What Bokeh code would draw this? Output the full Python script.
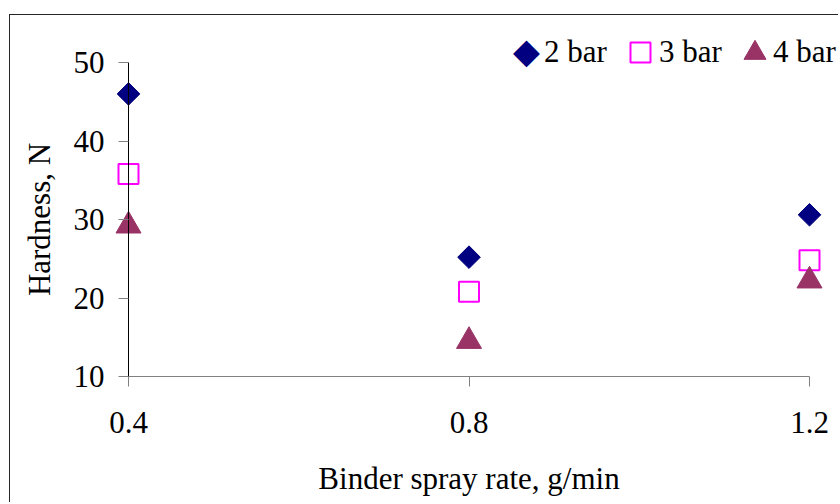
import math
from bokeh.plotting import figure
from bokeh.models import Range1d, Legend, LegendItem, FixedTicker, Label
from bokeh.embed import file_html
from bokeh.resources import INLINE

x_rate = [0.4, 0.8, 1.2]
hard_2bar = [46.0, 25.2, 30.6]
hard_3bar = [35.8, 20.8, 24.8]
hard_4bar = [29.2, 14.5, 22.2]
x_ticks = [0.4, 0.8, 1.2]
y_ticks = [10, 20, 30, 40, 50]
series_labels = ["2 bar", "3 bar", "4 bar"]

FONT = "Liberation Serif"
FS = "31px"

# layout (canvas pixels); canvas origin sits at page (10, 15), frame = whole canvas
W, H = 829, 488
ax_x0, ax_x1 = 118, 799           # pixel of x = 0.4 and x = 1.2
ax_y0, ax_y1 = 361, 47            # pixel of y = 10 and y = 50 (from top)
sx = (ax_x1 - ax_x0) / (x_ticks[-1] - x_ticks[0])
sy = (ax_y0 - ax_y1) / (y_ticks[-1] - y_ticks[0])
x_start = x_ticks[0] - ax_x0 / sx
x_end = x_ticks[-1] + (W - ax_x1) / sx
y_end = y_ticks[-1] + ax_y1 / sy
y_start = y_ticks[0] - (H - ax_y0) / sy

p = figure(width=W, height=H, output_backend="svg", toolbar_location=None,
           x_range=Range1d(x_start, x_end), y_range=Range1d(y_start, y_end),
           min_border_left=0, min_border_right=0, min_border_top=0, min_border_bottom=0,
           margin=(14, 0, 0, 9),
           styles={"border-left": "1px solid #262626", "border-top": "1px solid #262626"})
p.outline_line_color = None
p.grid.grid_line_color = None
p.background_fill_color = "white"
p.border_fill_color = "white"

r2 = p.scatter(x_rate, hard_2bar, marker="square", angle=math.pi / 4, size=16,
               fill_color="#000080", line_color="#000080")
r3 = p.scatter(x_rate, hard_3bar, marker="square", size=20, fill_color="white",
               line_color="#FF00FF", line_width=2)
r4 = p.scatter(x_rate, hard_4bar, marker="triangle", size=25,
               fill_color="#993366", line_color="#993366")

p.xaxis.ticker = FixedTicker(ticks=x_ticks)
p.yaxis.ticker = FixedTicker(ticks=y_ticks)
p.xaxis.axis_label = "Binder spray rate, g/min"
p.yaxis.axis_label = "Hardness, N"
p.xaxis.bounds = (x_ticks[0], x_ticks[-1])
p.yaxis.bounds = (y_ticks[0], y_ticks[-1])
p.xaxis.fixed_location = y_ticks[0]
p.yaxis.fixed_location = x_ticks[0]
for ax in (p.xaxis[0], p.yaxis[0]):
    ax.major_label_text_font = FONT
    ax.major_label_text_font_size = FS
    ax.major_label_text_color = "black"
    ax.axis_label_text_font = FONT
    ax.axis_label_text_font_size = FS
    ax.axis_label_text_font_style = "normal"
    ax.axis_label_text_color = "black"
    ax.major_tick_in = 0
    ax.major_tick_out = 10
    ax.minor_tick_in = 0
    ax.minor_tick_out = 0
    ax.major_tick_line_color = "#808080"
p.xaxis.axis_line_color = "#808080"
p.yaxis.axis_line_color = "black"
p.xaxis.major_label_standoff = 25
p.yaxis.major_label_standoff = 14
p.xaxis.axis_label_standoff = 25
p.yaxis.axis_label_standoff = 14


def make_legend(label, rend, gw, gh, loc, standoff):
    lg = Legend(items=[LegendItem(label=label, renderers=[rend])], location=loc)
    lg.label_text_font = FONT
    lg.label_text_font_size = FS
    lg.label_text_color = "black"
    lg.glyph_width = gw
    lg.glyph_height = gh
    lg.label_standoff = standoff
    lg.padding = 0
    lg.margin = 0
    lg.border_line_color = None
    lg.background_fill_alpha = 0
    p.add_layout(lg, "center")


# legend symbols (legend marker size = 0.4 * glyph box)
make_legend(" ", r3, 50, 50, (605, 426), 0)
make_legend(" ", r4, 55, 55, (717, 423), 0)
# legend texts (zero-size glyph box so only the label shows)
make_legend(series_labels[0], r2, 0, 40, (516, 431), 18)
make_legend(series_labels[1], r3, 0, 40, (640, 431), 9)
make_legend(series_labels[2], r4, 0, 40, (745, 431), 18)
# legend glyph for the rotated-square (diamond) series
p.add_layout(Label(x=516, y=453, x_units="screen", y_units="screen", text="\u25C6",
                   text_font="DejaVu Sans", text_font_size="35px", text_color="#000080",
                   text_align="center", text_baseline="middle"))

open("out.html", "w").write(file_html(p, INLINE))
